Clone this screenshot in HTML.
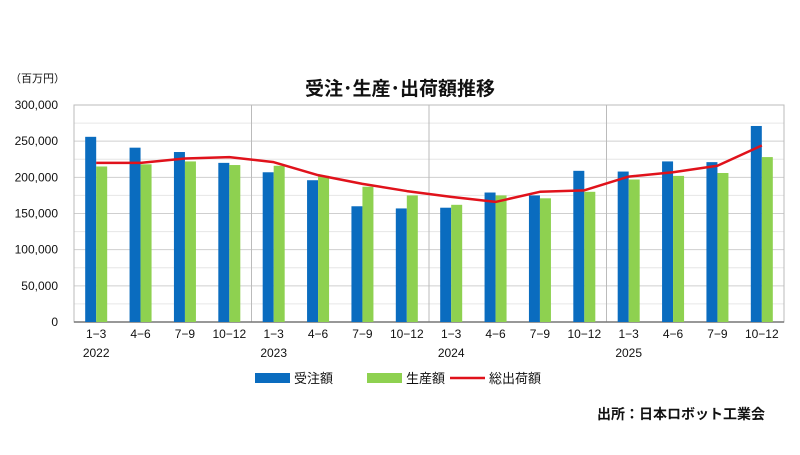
<!DOCTYPE html>
<html><head><meta charset="utf-8"><style>
body{margin:0;background:#fff;width:800px;height:450px;overflow:hidden}
text{font-family:"Liberation Sans","Noto Sans CJK JP",sans-serif;fill:#111}
</style></head><body>
<svg width="800" height="450" xmlns="http://www.w3.org/2000/svg">
<text x="10" y="82" font-size="11">（百万円）</text>
<text x="400" y="95" font-size="19" font-weight="bold" text-anchor="middle">受注･生産･出荷額推移</text>
<g id="grid"></g>
<g id="ylab" font-size="12"></g>
<g id="bars"></g>
<polyline id="line" fill="none" stroke="#e0121b" stroke-width="2.5" stroke-linejoin="round"/>
<g id="xl" font-size="12" text-anchor="middle"></g>
<rect x="255" y="373" width="35" height="10" fill="#0a6cbf"/>
<text x="294" y="383" font-size="13">受注額</text>
<rect x="367" y="373" width="35" height="10" fill="#8ed150"/>
<text x="406" y="383" font-size="13">生産額</text>
<line x1="450" y1="378" x2="485" y2="378" stroke="#e0121b" stroke-width="2.5"/>
<text x="489" y="383" font-size="13">総出荷額</text>
<text x="765" y="419" font-size="14" font-weight="bold" text-anchor="end">出所：日本ロボット工業会</text>
</svg>
<script>
const NS="http://www.w3.org/2000/svg";
function el(p,t,a,txt){const e=document.createElementNS(NS,t);for(const k in a)e.setAttribute(k,a[k]);if(txt!=null)e.textContent=txt;document.getElementById(p).appendChild(e);return e;}
const L=74,R=784,T=105,B=322,s=(B-T)/300;
const y=v=>B-v*s;
for(let v=25;v<=300;v+=25){el('grid','line',{x1:L,x2:R,y1:y(v),y2:y(v),stroke:v%50?'#e6e6e6':'#cfcfcf','stroke-width':1});}
for(let v=0;v<=300;v+=50){el('ylab','text',{x:58,y:y(v)+4,'text-anchor':'end'},v?v.toLocaleString('en-US')+',000'.slice(0,0)+'':'0');}
document.querySelectorAll('#ylab text').forEach((t,i)=>{const v=i*50;t.textContent=v?(v+',000'):'0';});
const cw=(R-L)/16;
[4,8,12].forEach(i=>el('grid','line',{x1:L+cw*i,x2:L+cw*i,y1:T,y2:B,stroke:'#bbb'}));
el('grid','rect',{x:L,y:T,width:R-L,height:B-T,fill:'none',stroke:'#bbb'});
el('grid','line',{x1:L,x2:R,y1:B,y2:B,stroke:'#777','stroke-width':1.5});
const b=[256,241,235,220,207,196,160,157,158,179,175,209,208,222,221,271];
const g=[215,218,222,217,216,202,187,175,162,175,171,180,197,202,206,228];
const r=[220,220,226,228,221,203,191,181,173,166,180,182,201,207,216,244];
const q=['1-3','4-6','7-9','10-12'];
let pts=[];
for(let i=0;i<16;i++){const c=L+cw*(i+.5);
el('bars','rect',{x:c-11,y:y(b[i]),width:11,height:B-y(b[i]),fill:'#0a6cbf'});
el('bars','rect',{x:c,y:y(g[i]),width:11,height:B-y(g[i]),fill:'#8ed150'});
pts.push(c+','+y(r[i]));
el('xl','text',{x:c,y:338},q[i%4].replace('-','−'));
if(i%4==0)el('xl','text',{x:c,y:357},2022+i/4);}
document.getElementById('line').setAttribute('points',pts.join(' '));
</script>
</body></html>
